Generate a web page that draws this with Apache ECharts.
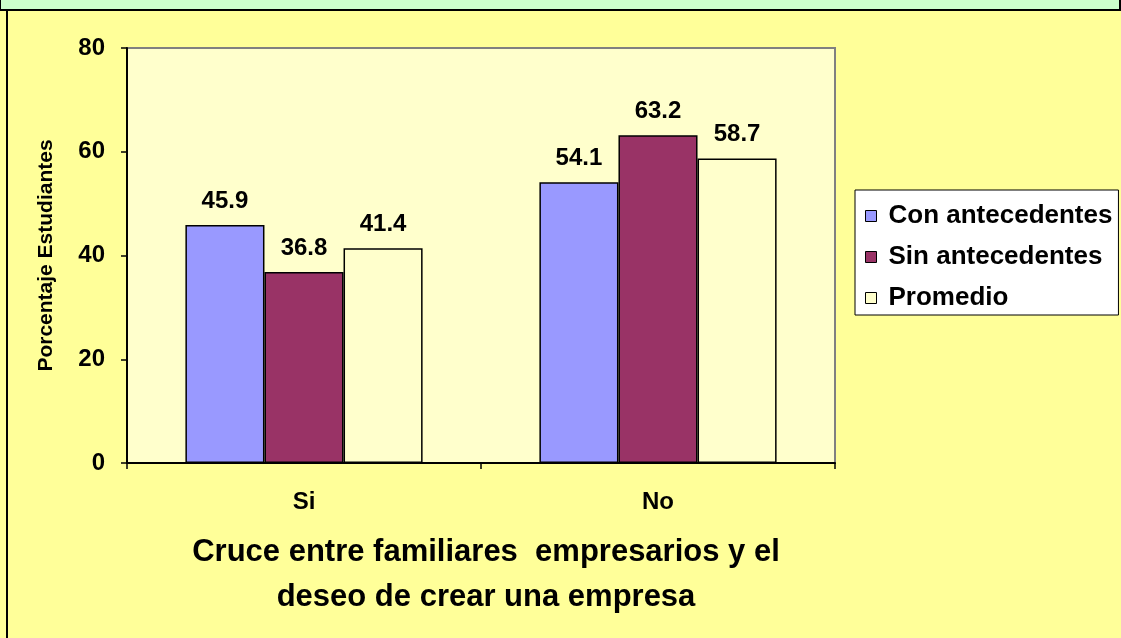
<!DOCTYPE html>
<html><head><meta charset="utf-8">
<script src="https://cdn.jsdelivr.net/npm/echarts@6/dist/echarts.min.js"></script>
<style>html,body{margin:0;padding:0;background:#FFFF99;}#c{width:1121px;height:638px;}</style>
</head><body><div id="c"></div>
<script>
const categories = ['Si', 'No'];
const seriesNames = ['Con antecedentes', 'Sin antecedentes', 'Promedio'];
const conAntecedentes = [45.9, 54.1];
const sinAntecedentes = [36.8, 63.2];
const promedio = [41.4, 58.7];
const seriesColors = ['#9999FF', '#993366', '#FFFFCC'];
const xTitle = 'Cruce entre familiares  empresarios y el\ndeseo de crear una empresa';
const yTitle = 'Porcentaje Estudiantes';

const values = [conAntecedentes, sinAntecedentes, promedio];
const font = '"Liberation Sans", Arial, sans-serif';
const chart = echarts.init(document.getElementById('c'));
chart.setOption({
  backgroundColor: '#FFFF99',
  animation: false,
  textStyle: {fontFamily: font},
  title: {
    text: xTitle, left: 481, top: 525, textAlign: 'center',
    textStyle: {fontFamily: font, fontSize: 31, fontWeight: 'bold', color: '#000', lineHeight: 45}
  },
  graphic: [
    {type: 'rect', shape: {x: 0, y: -2, width: 1120, height: 12}, style: {fill: '#CCFFCC', stroke: '#000', lineWidth: 2}},
    {type: 'line', shape: {x1: 7, y1: 10, x2: 7, y2: 640}, style: {stroke: '#000', lineWidth: 2}}
  ],
  legend: {
    orient: 'vertical', left: 855, top: 190,
    backgroundColor: '#FFFFFF', borderColor: '#000', borderWidth: 1,
    padding: [12, 6, 3, 10], itemGap: 13, itemWidth: 11, itemHeight: 11, icon: 'rect',
    itemStyle: {borderColor: '#000', borderWidth: 1},
    textStyle: {fontFamily: font, fontSize: 26, fontWeight: 'bold', color: '#000', lineHeight: 28, padding: [0, 0, 0, 7]},
    data: seriesNames
  },
  grid: {left: 127, top: 48, width: 708, height: 415, show: true, backgroundColor: '#FFFFCC', borderColor: '#808080', borderWidth: 2},
  xAxis: {
    type: 'category', data: categories,
    axisLine: {lineStyle: {color: '#000', width: 2}},
    axisTick: {show: true, length: 6, lineStyle: {color: '#000', width: 1.5}},
    axisLabel: {fontFamily: font, fontSize: 24, fontWeight: 'bold', color: '#000', margin: 27}
  },
  yAxis: {
    type: 'value', min: 0, max: 80, interval: 20,
    name: yTitle, nameLocation: 'middle', nameGap: 70,
    nameTextStyle: {fontFamily: font, fontSize: 21, fontWeight: 'bold', color: '#000'},
    axisLine: {show: true, lineStyle: {color: '#000', width: 2}},
    axisTick: {show: true, length: 6, lineStyle: {color: '#000', width: 1.5}},
    splitLine: {show: false},
    axisLabel: {fontFamily: font, fontSize: 24, fontWeight: 'bold', color: '#000', margin: 22}
  },
  series: seriesNames.map((n, i) => ({
    name: n, type: 'bar', data: values[i],
    barGap: '0%', barCategoryGap: '33%',
    itemStyle: {color: seriesColors[i], borderColor: '#000', borderWidth: 1.5},
    label: {show: true, position: 'top', distance: 12, fontFamily: font, fontSize: 24, fontWeight: 'bold', color: '#000', formatter: p => p.value.toFixed(1)}
  }))
});
</script></body></html>
